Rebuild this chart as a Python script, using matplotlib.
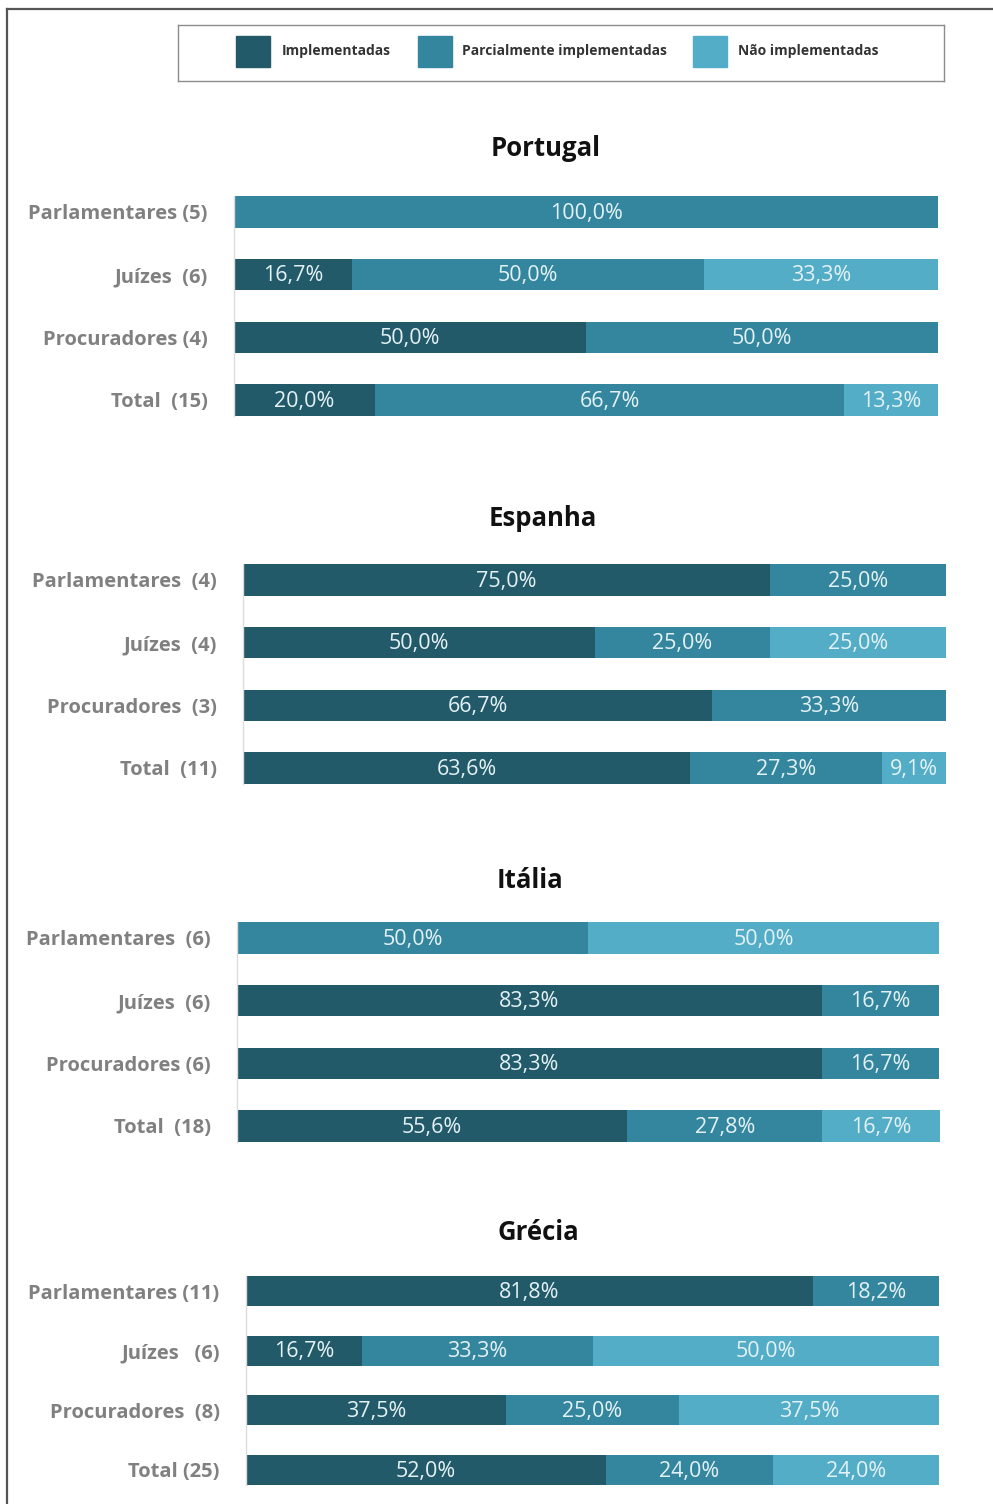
import matplotlib
matplotlib.use("Agg")
import matplotlib.pyplot as plt
from matplotlib.patches import Rectangle
from matplotlib.lines import Line2D

plt.rcParams["font.family"] = ["Open Sans", "DejaVu Sans"]

W, H = 993, 1504

series_names = ["Implementadas", "Parcialmente implementadas", "Não implementadas"]
series_colors = ["#235a69", "#34869e", "#53adc6"]

countries = ["Portugal", "Espanha", "Itália", "Grécia"]

portugal_labels = ["Parlamentares (5)", "Juízes  (6)", "Procuradores (4)", "Total  (15)"]
portugal_impl = [0.0, 16.7, 50.0, 20.0]
portugal_parc = [100.0, 50.0, 50.0, 66.7]
portugal_nao = [0.0, 33.3, 0.0, 13.3]

espanha_labels = ["Parlamentares  (4)", "Juízes  (4)", "Procuradores  (3)", "Total  (11)"]
espanha_impl = [75.0, 50.0, 66.7, 63.6]
espanha_parc = [25.0, 25.0, 33.3, 27.3]
espanha_nao = [0.0, 25.0, 0.0, 9.1]

italia_labels = ["Parlamentares  (6)", "Juízes  (6)", "Procuradores (6)", "Total  (18)"]
italia_impl = [0.0, 83.3, 83.3, 55.6]
italia_parc = [50.0, 16.7, 16.7, 27.8]
italia_nao = [50.0, 0.0, 0.0, 16.7]

grecia_labels = ["Parlamentares (11)", "Juízes   (6)", "Procuradores  (8)", "Total (25)"]
grecia_impl = [81.8, 16.7, 37.5, 52.0]
grecia_parc = [18.2, 33.3, 25.0, 24.0]
grecia_nao = [0.0, 50.0, 37.5, 24.0]

panels = [
    (portugal_labels, portugal_impl, portugal_parc, portugal_nao),
    (espanha_labels, espanha_impl, espanha_parc, espanha_nao),
    (italia_labels, italia_impl, italia_parc, italia_nao),
    (grecia_labels, grecia_impl, grecia_parc, grecia_nao),
]

# panel geometry in pixels: bar left, bar right, first row centre, last row centre, title y, title x
geometry = [
    (234, 938, 212, 400, 148, 546),
    (243, 946, 580, 768, 518, 543),
    (237, 939, 938, 1126, 881, 530),
    (246, 939, 1291, 1470, 1232, 538),
]


def fx(x):
    return x / W


def fy(y):
    return 1 - y / H


fig = plt.figure(figsize=(W / 100, H / 100), dpi=100)
fig.patch.set_facecolor("white")

# outer frame (top and left edges)
fig.add_artist(Line2D([fx(7), fx(7)], [fy(9), 0], color="#555555", lw=1.6))
fig.add_artist(Line2D([fx(7), 1], [fy(9), fy(9)], color="#555555", lw=1.6))

# legend box
lax = fig.add_axes([fx(178), fy(81), fx(944) - fx(178), fy(25) - fy(81)])
lax.set_xlim(178, 944)
lax.set_ylim(81, 25)
lax.set_xticks([])
lax.set_yticks([])
for s in lax.spines.values():
    s.set_color("#8c8c8c")
    s.set_linewidth(1.0)
patch_x = [236, 418, 693]
text_x = [282, 462, 738]
for px, tx, name, col in zip(patch_x, text_x, series_names, series_colors):
    lax.add_patch(Rectangle((px, 36), 34, 31, color=col))
    lax.text(tx, 51, name, fontsize=10, fontweight="bold",
             color="#333333", va="center", ha="left")

for (labels, impl, parc, nao), (x0, x1, r0, r3, ty, tx), country in zip(panels, geometry, countries):
    spacing = (r3 - r0) / 3
    top = r0 - spacing / 2
    bot = r3 + spacing / 2
    ax = fig.add_axes([fx(x0), fy(bot), fx(x1) - fx(x0), fy(top) - fy(bot)])
    ax.set_xlim(0, 100)
    ax.set_ylim(3.5, -0.5)
    ypos = list(range(len(labels)))
    left = [0.0] * len(labels)
    for vals, col in zip((impl, parc, nao), series_colors):
        ax.barh(ypos, vals, left=left, height=0.5, color=col, clip_on=False)
        for y, v, l in zip(ypos, vals, left):
            if v > 0:
                ax.text(l + v / 2, y + 0.02, f"{v:.1f}%".replace(".", ","), ha="center",
                        va="center", fontsize=15.5, color="#e4f2f6")
        left = [a + b for a, b in zip(left, vals)]
    ax.set_yticks(ypos)
    ax.set_yticklabels(labels, fontsize=14.5, fontweight="bold", color="#808080")
    ax.tick_params(axis="y", length=0, pad=19)
    ax.set_xticks([])
    for side in ("top", "right", "bottom"):
        ax.spines[side].set_visible(False)
    ax.spines["left"].set_color("#dcdcdc")
    ax.spines["left"].set_linewidth(1.0)
    ax.spines["left"].set_bounds(-0.25, 3.25)
    ax.patch.set_alpha(0)
    fig.text(fx(tx), fy(ty), country, ha="center", va="center",
             fontsize=18.5, fontweight="bold", color="#111111")

fig.savefig("out.png", dpi=100, facecolor="white")
